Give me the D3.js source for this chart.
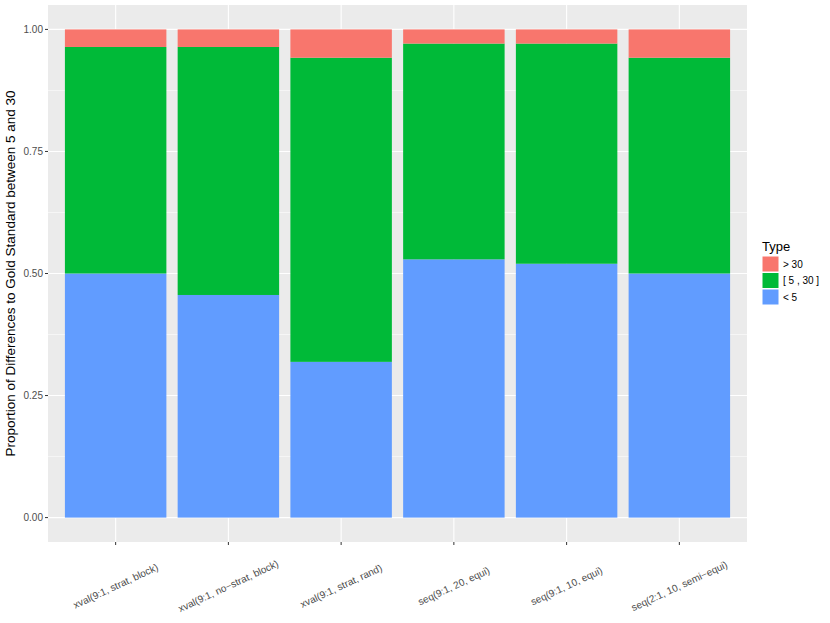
<!DOCTYPE html>
<html>
<head>
<meta charset="utf-8">
<script src="https://cdn.jsdelivr.net/npm/d3@7"></script>
<style>
  body { margin: 0; background: #fff; }
  text { font-family: "Liberation Sans", Arial, sans-serif; }
</style>
</head>
<body>
<svg width="830" height="623"></svg>
<script>
// categories and stacked proportions
var categories = ['xval(9:1, strat, block)', 'xval(9:1, no\u2212strat, block)', 'xval(9:1, strat, rand)',
                  'seq(9:1, 20, equi)', 'seq(9:1, 10, equi)', 'seq(2:1, 10, semi\u2212equi)'];
var lessThan5 = [0.500, 0.456, 0.319, 0.529, 0.520, 0.500];
var from5to30 = [0.464, 0.508, 0.623, 0.442, 0.451, 0.442];
var moreThan30 = [0.036, 0.036, 0.058, 0.029, 0.029, 0.058];
var yTicks = [0, 0.25, 0.5, 0.75, 1];
var yMinor = [0.125, 0.375, 0.625, 0.875];

var types = ['< 5', '[ 5 , 30 ]', '> 30'];
var legendOrder = ['> 30', '[ 5 , 30 ]', '< 5'];
var colorScale = d3.scaleOrdinal()
                   .domain(types)
                   .range(['#619CFF', '#00BA38', '#F8766D']);

var rows = categories.map((c, i) => ({
  cat: c, '< 5': lessThan5[i], '[ 5 , 30 ]': from5to30[i], '> 30': moreThan30[i]
}));
var stacked = d3.stack().keys(types)(rows);

var panel = {left: 48, right: 747, top: 5, bottom: 542};
var svg = d3.select('svg');

// ggplot style expansions: 5% on continuous y, 0.6 units on discrete x
var yRange = 1.1;
var y = d3.scaleLinear()
          .domain([-0.05, 1.05])
          .range([panel.bottom, panel.top]);
var x = d3.scalePoint()
          .domain(categories)
          .range([panel.left, panel.right])
          .padding(0.6);
var bandW = x.step() * 0.9;

svg.append('rect')
    .attr('x', panel.left).attr('y', panel.top)
    .attr('width', panel.right - panel.left)
    .attr('height', panel.bottom - panel.top)
    .attr('fill', '#EBEBEB');

// grid
var grid = svg.append('g');
grid.selectAll('.minor')
  .data(yMinor)
  .enter().append('line')
    .attr('x1', panel.left).attr('x2', panel.right)
    .attr('y1', d => y(d)).attr('y2', d => y(d))
    .attr('stroke', '#fff').attr('stroke-width', 0.55);
grid.selectAll('.major')
  .data(yTicks)
  .enter().append('line')
    .attr('x1', panel.left).attr('x2', panel.right)
    .attr('y1', d => y(d)).attr('y2', d => y(d))
    .attr('stroke', '#fff').attr('stroke-width', 1.1);
grid.selectAll('.vmajor')
  .data(categories)
  .enter().append('line')
    .attr('x1', d => x(d)).attr('x2', d => x(d))
    .attr('y1', panel.top).attr('y2', panel.bottom)
    .attr('stroke', '#fff').attr('stroke-width', 1.1);

// bars
svg.append('g')
  .selectAll('g')
  .data(stacked)
  .enter().append('g')
    .attr('fill', d => colorScale(d.key))
  .selectAll('rect')
  .data(d => d)
  .enter().append('rect')
    .attr('x', d => x(d.data.cat) - bandW / 2)
    .attr('width', bandW)
    .attr('y', d => y(d[1]))
    .attr('height', d => y(d[0]) - y(d[1]));

// y axis
var yAxis = svg.append('g');
yAxis.selectAll('line')
  .data(yTicks)
  .enter().append('line')
    .attr('x1', panel.left - 3).attr('x2', panel.left)
    .attr('y1', d => y(d)).attr('y2', d => y(d))
    .attr('stroke', '#333').attr('stroke-width', 1);
yAxis.selectAll('text')
  .data(yTicks)
  .enter().append('text')
    .attr('x', panel.left - 5)
    .attr('y', d => y(d))
    .attr('dy', '0.35em')
    .attr('text-anchor', 'end')
    .attr('font-size', 10)
    .attr('fill', '#4D4D4D')
    .text(d => d3.format('.2f')(d));

// x axis
var xAxis = svg.append('g');
xAxis.selectAll('line')
  .data(categories)
  .enter().append('line')
    .attr('x1', d => x(d)).attr('x2', d => x(d))
    .attr('y1', panel.bottom).attr('y2', panel.bottom + 3)
    .attr('stroke', '#333').attr('stroke-width', 1);
xAxis.selectAll('text')
  .data(categories)
  .enter().append('text')
    .attr('transform', d => 'translate(' + x(d) + ',' + 586 + ') rotate(-25)')
    .attr('text-anchor', 'middle')
    .attr('dy', '0.35em')
    .attr('font-size', 10)
    .attr('fill', '#4D4D4D')
    .text(d => d);

// y title
svg.append('text')
    .attr('transform', 'translate(15,' + ((panel.top + panel.bottom) / 2) + ') rotate(-90)')
    .attr('text-anchor', 'middle')
    .attr('font-size', 13.5)
    .attr('fill', '#000')
    .text('Proportion of Differences to Gold Standard between 5 and 30');

// legend
var legend = svg.append('g').attr('transform', 'translate(762,0)');
legend.append('text')
    .attr('x', 0).attr('y', 251)
    .attr('font-size', 13)
    .text('Type');
var keys = legend.selectAll('.key')
  .data(legendOrder)
  .enter().append('g')
    .attr('transform', (d, i) => 'translate(0,' + (256 + i * 16.5) + ')');
keys.append('rect')
    .attr('width', 17).attr('height', 16)
    .attr('fill', d => colorScale(d))
    .attr('stroke', '#fff').attr('stroke-width', 1);
keys.append('text')
    .attr('x', 21).attr('y', 8)
    .attr('dy', '0.35em')
    .attr('font-size', 10)
    .text(d => d);
</script>
</body>
</html>
